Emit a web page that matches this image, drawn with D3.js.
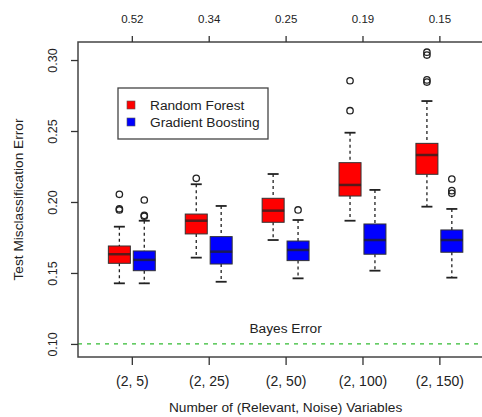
<!DOCTYPE html>
<html><head><meta charset="utf-8">
<script src="https://cdn.jsdelivr.net/npm/d3@7"></script>
<style>body{margin:0;background:#fff}svg{display:block}text{font-family:"Liberation Sans",Arial,sans-serif;fill:#222}</style>
</head><body>
<script>
const categories = ["(2, 5)", "(2, 25)", "(2, 50)", "(2, 100)", "(2, 150)"];
const topLabels = ["0.52", "0.34", "0.25", "0.19", "0.15"];
const yTicks = [0.10, 0.15, 0.20, 0.25, 0.30];
const series = ["Random Forest", "Gradient Boosting"];
const colors = ["#ff0000", "#0000ff"];
const bayesError = 0.10;

const rfLow = [0.1427, 0.1608, 0.1732, 0.1868, 0.1967];
const rfQ1 = [0.1568, 0.1775, 0.1857, 0.2042, 0.2195];
const rfMed = [0.1632, 0.1868, 0.1939, 0.2120, 0.2331];
const rfQ3 = [0.1690, 0.1915, 0.2026, 0.2277, 0.2413];
const rfHigh = [0.1826, 0.2125, 0.2197, 0.2488, 0.2711];
const rfOut = [[0.1944, 0.1952, 0.2054], [0.2167], [], [0.2643, 0.2854], [0.2845, 0.2860, 0.3035, 0.3055]];

const gbLow = [0.1427, 0.1438, 0.1462, 0.1516, 0.1467];
const gbQ1 = [0.1516, 0.1563, 0.1587, 0.1632, 0.1646];
const gbMed = [0.1592, 0.1650, 0.1662, 0.1732, 0.1732];
const gbQ3 = [0.1655, 0.1756, 0.1725, 0.1845, 0.1803];
const gbHigh = [0.1868, 0.1972, 0.1873, 0.2085, 0.1951];
const gbOut = [[0.1900, 0.1906, 0.2014], [], [0.1944], [], [0.2061, 0.2080, 0.2162]];

const W = 482, H = 417;
const L = 78, R = 493.2, T = 42, B = 357;
const svg = d3.select("body").append("svg").attr("width", W).attr("height", H);

const x = d3.scaleLinear().domain([0.3, 5.7]).range([L, R]);
const y = d3.scaleLinear().domain([0.0908, 0.3127]).range([B, T]);

const boxes = [];
const sets = [[rfLow, rfQ1, rfMed, rfQ3, rfHigh, rfOut], [gbLow, gbQ1, gbMed, gbQ3, gbHigh, gbOut]];
sets.forEach((s, si) => {
  categories.forEach((c, i) => {
    boxes.push({si, i, low: s[0][i], q1: s[1][i], med: s[2][i], q3: s[3][i], high: s[4][i], out: s[5][i]});
  });
});
const off = 0.162, bw = 22;
const cx = d => x(d.i + 1 + (d.si === 0 ? -off : off));

// bayes line
svg.append("line").attr("x1", L).attr("x2", R).attr("y1", y(bayesError)).attr("y2", y(bayesError))
  .attr("stroke", "#33bb33").attr("stroke-width", 1.2).attr("stroke-dasharray", "4,5");
svg.append("text").attr("x", x(3)).attr("y", y(bayesError) - 11).attr("text-anchor", "middle")
  .attr("font-size", 13.7).text("Bayes Error");

const g = svg.append("g");
const bg = g.selectAll("g.box").data(boxes).join("g");
bg.append("line").attr("x1", cx).attr("x2", cx).attr("y1", d => y(d.high)).attr("y2", d => y(d.q3))
  .attr("stroke", "#222").attr("stroke-width", 1.3).attr("stroke-dasharray", "3,3");
bg.append("line").attr("x1", cx).attr("x2", cx).attr("y1", d => y(d.q1)).attr("y2", d => y(d.low))
  .attr("stroke", "#222").attr("stroke-width", 1.3).attr("stroke-dasharray", "3,3");
bg.append("line").attr("x1", d => cx(d) - 5.5).attr("x2", d => cx(d) + 5.5).attr("y1", d => y(d.high)).attr("y2", d => y(d.high))
  .attr("stroke", "#222").attr("stroke-width", 1.8);
bg.append("line").attr("x1", d => cx(d) - 5.5).attr("x2", d => cx(d) + 5.5).attr("y1", d => y(d.low)).attr("y2", d => y(d.low))
  .attr("stroke", "#222").attr("stroke-width", 1.8);
bg.append("rect").attr("x", d => cx(d) - bw / 2).attr("width", bw)
  .attr("y", d => y(d.q3)).attr("height", d => y(d.q1) - y(d.q3))
  .attr("fill", d => colors[d.si]).attr("stroke", "#333").attr("stroke-width", 1);
bg.append("line").attr("x1", d => cx(d) - bw / 2).attr("x2", d => cx(d) + bw / 2).attr("y1", d => y(d.med)).attr("y2", d => y(d.med))
  .attr("stroke", "#222").attr("stroke-width", 2.5).attr("opacity", 0.75);
bg.selectAll("circle").data(d => d.out.map(v => ({v, d}))).join("circle")
  .attr("cx", o => cx(o.d)).attr("cy", o => y(o.v)).attr("r", 3.2)
  .attr("fill", "none").attr("stroke", "#222").attr("stroke-width", 1.3);

// frame
svg.append("rect").attr("x", L).attr("y", T).attr("width", R - L).attr("height", B - T)
  .attr("fill", "none").attr("stroke", "#444").attr("stroke-width", 1.5);

// bottom axis
const xb = svg.append("g").attr("transform", `translate(0,${B})`)
  .call(d3.axisBottom(x).tickValues([1, 2, 3, 4, 5]).tickFormat(d => categories[d - 1]).tickSize(8).tickPadding(11));
xb.select(".domain").remove();
xb.selectAll("line").attr("stroke", "#333").attr("stroke-width", 1.3);
xb.selectAll("text").attr("font-size", 14).attr("fill", "#222").attr("font-family", "Liberation Sans, Arial, sans-serif");

// top axis
const xt = svg.append("g").attr("transform", `translate(0,${T})`)
  .call(d3.axisTop(x).tickValues([1, 2, 3, 4, 5]).tickFormat(d => topLabels[d - 1]).tickSize(6).tickPadding(13));
xt.select(".domain").remove();
xt.selectAll("line").attr("stroke", "#333").attr("stroke-width", 1.3);
xt.selectAll("text").attr("font-size", 11.5).attr("fill", "#222").attr("font-family", "Liberation Sans, Arial, sans-serif");

// left axis
const ya = svg.append("g").attr("transform", `translate(${L},0)`)
  .call(d3.axisLeft(y).tickValues(yTicks).tickFormat(d3.format(".2f")).tickSize(7));
ya.select(".domain").remove();
ya.selectAll("line").attr("stroke", "#333").attr("stroke-width", 1.3);
ya.selectAll("text").attr("font-size", 12.5).attr("fill", "#222").attr("font-family", "Liberation Sans, Arial, sans-serif")
  .attr("text-anchor", "middle").attr("dy", null).attr("x", null)
  .attr("transform", "translate(-25,0) rotate(-90)").attr("dominant-baseline", "central");

// titles
svg.append("text").attr("x", x(3)).attr("y", 412).attr("text-anchor", "middle").attr("font-size", 13.7)
  .text("Number of (Relevant, Noise) Variables");
svg.append("text").attr("transform", `translate(23,${(T + B) / 2}) rotate(-90)`).attr("text-anchor", "middle")
  .attr("font-size", 13.7).text("Test Misclassification Error");

// legend
const lg = svg.append("g").attr("transform", "translate(118,88)");
lg.append("rect").attr("width", 150).attr("height", 51).attr("fill", "#fff").attr("stroke", "#444").attr("stroke-width", 1.3);
series.forEach((s, i) => {
  lg.append("rect").attr("x", 9).attr("y", 13 + i * 17).attr("width", 8).attr("height", 8)
    .attr("fill", colors[i]).attr("stroke", "#555").attr("stroke-width", 0.6);
  lg.append("text").attr("x", 32).attr("y", 17 + i * 17).attr("dominant-baseline", "central")
    .attr("font-size", 13.7).text(s);
});
</script>
</body></html>
